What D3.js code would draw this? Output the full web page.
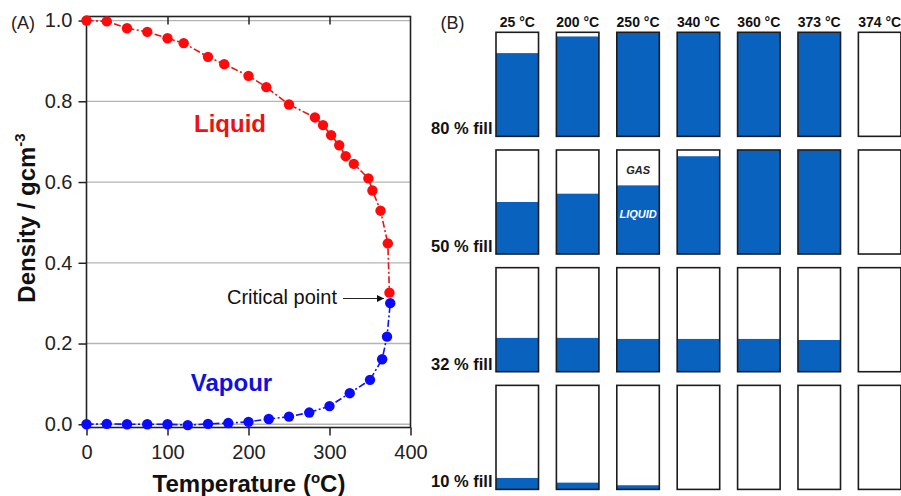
<!DOCTYPE html>
<html>
<head>
<meta charset="utf-8">
<script src="https://cdn.jsdelivr.net/npm/d3@7"></script>
<style>
  html, body { margin: 0; padding: 0; background: #fff; }
  svg { display: block; font-family: "Liberation Sans", Arial, sans-serif; }
</style>
</head>
<body>
<svg id="chart" width="901" height="496"></svg>
<script>
// ---- Panel A: coexistence densities of water ----
const liquidT   = [0, 25, 50, 75, 100, 120, 150, 170, 200, 222, 250, 282, 292, 302, 312, 320, 330, 348, 353, 363, 372, 374];
const liquidRho = [1.0, 0.998, 0.981, 0.972, 0.956, 0.944, 0.910, 0.892, 0.863, 0.835, 0.792, 0.760, 0.741, 0.716, 0.691, 0.664, 0.645, 0.609, 0.579, 0.529, 0.448, 0.326];
const vapourT   = [0, 25, 50, 75, 100, 125, 150, 175, 200, 225, 250, 275, 300, 325, 350, 365, 371, 375];
const vapourRho = [0, 0.001, 0, 0, 0, -0.002, 0.001, 0.003, 0.006, 0.013, 0.019, 0.029, 0.045, 0.077, 0.110, 0.161, 0.217, 0.300];
const xTickValues = [0, 100, 200, 300, 400];
const yTickValues = [0.0, 0.2, 0.4, 0.6, 0.8, 1.0];

// ---- Panel B: vial fill levels (liquid fraction of vial height) ----
const vialTemps  = ["25 °C", "200 °C", "250 °C", "340 °C", "360 °C", "373 °C", "374 °C"];
const fillLabels = ["80 % fill", "50 % fill", "32 % fill", "10 % fill"];
const fill80 = [0.80, 0.96, 1.00, 1.00, 1.00, 1.00, 0];
const fill50 = [0.50, 0.58, 0.66, 0.94, 1.00, 1.00, 0];
const fill32 = [0.325, 0.325, 0.315, 0.315, 0.315, 0.305, 0];
const fill10 = [0.11, 0.065, 0.04, 0, 0, 0, 0];
const fillRows = [fill80, fill50, fill32, fill10];

const svg = d3.select("#chart");

// ================= Panel A =================
const x = d3.scaleLinear().domain([0, 400]).range([86.5, 410.5]);
const y = d3.scaleLinear().domain([-0.008, 1.01]).range([427.5, 16.5]);

const A = svg.append("g");

// horizontal grid
A.append("g").selectAll("line").data(yTickValues).join("line")
  .attr("x1", x(0)).attr("x2", x(400))
  .attr("y1", d => y(d)).attr("y2", d => y(d))
  .attr("stroke", "#b4b4b4").attr("stroke-width", 1.3);

// left axis
const yAxis = A.append("g").attr("transform", `translate(${x(0)},0)`)
  .call(d3.axisLeft(y).tickValues(yTickValues).tickFormat(d3.format(".1f")).tickSize(8).tickPadding(6));
// bottom axis
const xAxis = A.append("g").attr("transform", `translate(0,${y.range()[0]})`)
  .call(d3.axisBottom(x).tickValues(xTickValues).tickSize(8).tickPadding(9));
// top axis, inward ticks, no labels
const tAxis = A.append("g").attr("transform", `translate(0,${y.range()[1]})`)
  .call(d3.axisBottom(x).tickValues([100, 200, 300]).tickSize(8).tickFormat(""));

[yAxis, xAxis, tAxis].forEach(g => {
  g.select(".domain").remove();
  g.selectAll(".tick line").attr("stroke", "#222").attr("stroke-width", 1.5);
  g.selectAll(".tick text").attr("fill", "#222").style("font-size", "20px")
    .style("font-family", "'Liberation Sans', Arial, sans-serif");
});

// frame
A.append("rect")
  .attr("x", x(0)).attr("y", y.range()[1])
  .attr("width", x(400) - x(0)).attr("height", y.range()[0] - y.range()[1])
  .attr("fill", "none").attr("stroke", "#222").attr("stroke-width", 1.6);

const line = d3.line().x(d => x(d[0])).y(d => y(d[1]));
const liquid = liquidT.map((t, i) => [t, liquidRho[i]]);
const vapour = vapourT.map((t, i) => [t, vapourRho[i]]);

A.append("path").datum(liquid).attr("d", line)
  .attr("fill", "none").attr("stroke", "#ee1111").attr("stroke-width", 1.6)
  .attr("stroke-dasharray", "7,2.5,2,2.5");
A.append("path").datum(vapour).attr("d", line)
  .attr("fill", "none").attr("stroke", "#1111ee").attr("stroke-width", 1.6)
  .attr("stroke-dasharray", "7,2.5,2,2.5");

A.append("g").selectAll("circle").data(liquid).join("circle")
  .attr("cx", d => x(d[0])).attr("cy", d => y(d[1])).attr("r", 5.2)
  .attr("fill", "#ff0a0a");
A.append("g").selectAll("circle").data(vapour).join("circle")
  .attr("cx", d => x(d[0])).attr("cy", d => y(d[1])).attr("r", 5.2)
  .attr("fill", "#0a0aff");

// phase labels
A.append("text").attr("x", 230).attr("y", 131.5).attr("text-anchor", "middle")
  .attr("fill", "#ee1111").style("font-size", "24px").style("font-weight", "bold").text("Liquid");
A.append("text").attr("x", 231.5).attr("y", 390.5).attr("text-anchor", "middle")
  .attr("fill", "#1111dd").style("font-size", "24px").style("font-weight", "bold").text("Vapour");

// critical point annotation
svg.append("defs").append("marker")
  .attr("id", "arrowHead").attr("viewBox", "0 0 10 10")
  .attr("refX", 10).attr("refY", 5).attr("markerWidth", 7).attr("markerHeight", 7)
  .attr("markerUnits", "userSpaceOnUse").attr("orient", "auto")
  .append("path").attr("d", "M0,0 L10,5 L0,10 z").attr("fill", "#111");
A.append("text").attr("x", 337).attr("y", 304).attr("text-anchor", "end")
  .attr("fill", "#111").style("font-size", "20px").text("Critical point");
A.append("line").attr("x1", 343).attr("x2", 384)
  .attr("y1", 298.5).attr("y2", 298.5)
  .attr("stroke", "#222").attr("stroke-width", 1.2).attr("marker-end", "url(#arrowHead)");

// axis titles
const xt = A.append("text").attr("x", 249).attr("y", 491.5).attr("text-anchor", "middle")
  .attr("fill", "#111").style("font-size", "24px").style("font-weight", "bold");
xt.append("tspan").text("Temperature (");
xt.append("tspan").attr("dy", -9).style("font-size", "15px").text("o");
xt.append("tspan").attr("dy", 9).text("C)");

const yt = A.append("text").attr("transform", "translate(35,218) rotate(-90)")
  .attr("text-anchor", "middle").attr("fill", "#111")
  .style("font-size", "24px").style("font-weight", "bold");
yt.append("tspan").text("Density / gcm");
yt.append("tspan").attr("dy", -10).style("font-size", "15px").text("-3");

A.append("text").attr("x", 11).attr("y", 29).attr("fill", "#222")
  .style("font-size", "18px").text("(A)");

// ================= Panel B =================
const B = svg.append("g");
const col = d3.scaleBand().domain(vialTemps).range([496, 900.9]).paddingInner(0.296).paddingOuter(0);
const row = d3.scaleBand().domain(fillLabels).range([32.3, 489.4]).paddingInner(0.116).paddingOuter(0);
const vw = col.bandwidth(), vh = row.bandwidth();

B.append("text").attr("x", 440.5).attr("y", 29).attr("fill", "#222")
  .style("font-size", "18px").text("(B)");

B.append("g").selectAll("text").data(vialTemps).join("text")
  .attr("x", d => col(d) + vw / 2).attr("y", 26.5).attr("text-anchor", "middle")
  .attr("fill", "#111").style("font-size", "14px").style("font-weight", "bold").text(d => d);

B.append("g").selectAll("text").data(fillLabels).join("text")
  .attr("x", 492.5).attr("y", d => row(d) + vh - 2).attr("text-anchor", "end")
  .attr("fill", "#111").style("font-size", "16.5px").style("font-weight", "bold").text(d => d);

const cells = [];
fillLabels.forEach((r, ri) => vialTemps.forEach((c, ci) => cells.push({ r, c, f: fillRows[ri][ci] })));

const cellG = B.append("g").selectAll("g").data(cells).join("g")
  .attr("transform", d => `translate(${col(d.c)},${row(d.r)})`);
cellG.append("rect").attr("width", vw).attr("height", vh).attr("fill", "#fff");
cellG.append("rect")
  .attr("y", d => vh * (1 - d.f)).attr("width", vw).attr("height", d => vh * d.f)
  .attr("fill", "#0a62bf");
cellG.append("rect").attr("width", vw).attr("height", vh)
  .attr("fill", "none").attr("stroke", "#1c1c1c").attr("stroke-width", 1.6);

// phase labels inside the 50 % / 250 °C vial
const gx = col("250 °C") + vw / 2, gy = row("50 % fill");
B.append("text").attr("x", gx).attr("y", gy + 24).attr("text-anchor", "middle")
  .attr("fill", "#222").style("font-size", "11px").style("font-weight", "bold")
  .style("font-style", "italic").text("GAS");
B.append("text").attr("x", gx).attr("y", gy + 68).attr("text-anchor", "middle")
  .attr("fill", "#fff").style("font-size", "11px").style("font-weight", "bold")
  .style("font-style", "italic").text("LIQUID");
</script>
</body>
</html>
